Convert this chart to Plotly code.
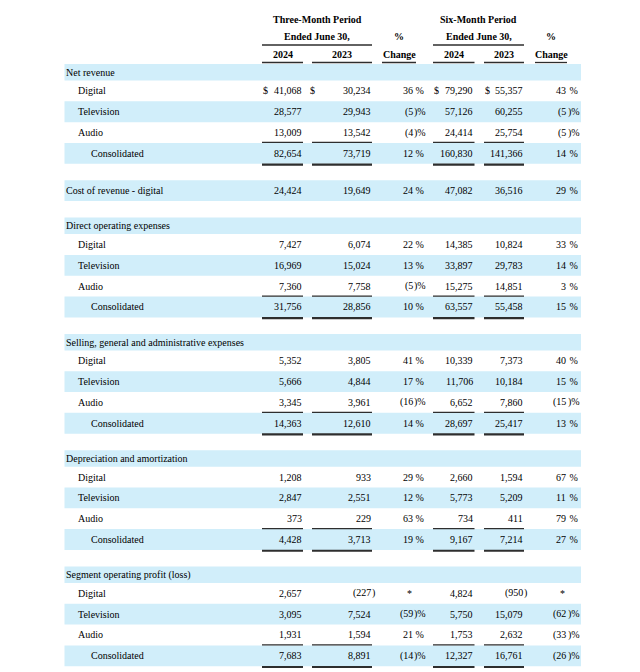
import plotly.graph_objects as go

# ---------------- data ----------------
SECTIONS = ["Net revenue", "Cost of revenue - digital", "Direct operating expenses",
            "Selling, general and administrative expenses", "Depreciation and amortization",
            "Segment operating profit (loss)"]
SEGMENTS = ["Digital", "Television", "Audio", "Consolidated"]
COL_YEARS = ["2024", "2023", "Change", "2024", "2023", "Change"]
PERIODS = ["Three-Month Period", "Six-Month Period"]
PERIOD_SUB = "Ended June 30,"

net_rev_3m_2024 = [41068, 28577, 13009, 82654]
net_rev_3m_2023 = [30234, 29943, 13542, 73719]
net_rev_3m_chg = [36, -5, -4, 12]
net_rev_6m_2024 = [79290, 57126, 24414, 160830]
net_rev_6m_2023 = [55357, 60255, 25754, 141366]
net_rev_6m_chg = [43, -5, -5, 14]

cost_3m_2024 = [24424]
cost_3m_2023 = [19649]
cost_3m_chg = [24]
cost_6m_2024 = [47082]
cost_6m_2023 = [36516]
cost_6m_chg = [29]

doe_3m_2024 = [7427, 16969, 7360, 31756]
doe_3m_2023 = [6074, 15024, 7758, 28856]
doe_3m_chg = [22, 13, -5, 10]
doe_6m_2024 = [14385, 33897, 15275, 63557]
doe_6m_2023 = [10824, 29783, 14851, 55458]
doe_6m_chg = [33, 14, 3, 15]

sga_3m_2024 = [5352, 5666, 3345, 14363]
sga_3m_2023 = [3805, 4844, 3961, 12610]
sga_3m_chg = [41, 17, -16, 14]
sga_6m_2024 = [10339, 11706, 6652, 28697]
sga_6m_2023 = [7373, 10184, 7860, 25417]
sga_6m_chg = [40, 15, -15, 13]

da_3m_2024 = [1208, 2847, 373, 4428]
da_3m_2023 = [933, 2551, 229, 3713]
da_3m_chg = [29, 12, 63, 19]
da_6m_2024 = [2660, 5773, 734, 9167]
da_6m_2023 = [1594, 5209, 411, 7214]
da_6m_chg = [67, 11, 79, 27]

sop_3m_2024 = [2657, 3095, 1931, 7683]
sop_3m_2023 = [-227, 7524, 1594, 8891]
sop_3m_chg = [None, -59, 21, -14]
sop_6m_2024 = [4824, 5750, 1753, 12327]
sop_6m_2023 = [-950, 15079, 2632, 16761]
sop_6m_chg = [None, -62, -33, -26]

SECTION_COLS = [
    [net_rev_3m_2024, net_rev_3m_2023, net_rev_3m_chg, net_rev_6m_2024, net_rev_6m_2023, net_rev_6m_chg],
    [cost_3m_2024, cost_3m_2023, cost_3m_chg, cost_6m_2024, cost_6m_2023, cost_6m_chg],
    [doe_3m_2024, doe_3m_2023, doe_3m_chg, doe_6m_2024, doe_6m_2023, doe_6m_chg],
    [sga_3m_2024, sga_3m_2023, sga_3m_chg, sga_6m_2024, sga_6m_2023, sga_6m_chg],
    [da_3m_2024, da_3m_2023, da_3m_chg, da_6m_2024, da_6m_2023, da_6m_chg],
    [sop_3m_2024, sop_3m_2023, sop_3m_chg, sop_6m_2024, sop_6m_2023, sop_6m_chg],
]

# ---------------- layout constants ----------------
W, H = 640, 672
OFF = 8  # page body margin compensation
FONT = "Liberation Serif"
FS = 10
TXT = "#000000"
BAND = "#d1eefa"
LINE = "#2e2e2e"

X_LABEL, X_SEG, X_CONS = 65.5, 78, 91
BAND_X0, BAND_X1 = 64.5, 581
COL_RIGHT = [302, 370.5, 412.5, 473, 522.5, 566]
IS_PCT = [False, False, True, False, False, True]
DOLLAR_X = [262.5, 309.5, None, 434, 484.5, None]
UL = [(262, 303), (312, 372), (382, 416), (433, 474.5), (484, 524), (535, 567)]
PERIOD_SPAN = [(262, 372), (433, 524)]
PCT_X = [(382 + 416) / 2, (535 + 567) / 2]

Y_START = 64
H_HEAD, H_ROW, H_GAP = 16.5, 20.82, 16.5

shapes, ann = [], []


def text(x, y, s, anchor="left", bold=False):
    ann.append(dict(x=x, y=y, xref="x", yref="y", text=("<b>%s</b>" % s) if bold else s,
                    showarrow=False, xanchor=anchor, yanchor="middle", borderpad=0, borderwidth=0,
                    font=dict(family=FONT, size=FS, color=TXT)))


def hline(x0, x1, y, w=1):
    shapes.append(dict(type="line", xref="x", yref="y", x0=x0, x1=x1, y0=y, y1=y,
                       line=dict(color=LINE, width=w), layer="above"))


def band(y0, y1):
    shapes.append(dict(type="rect", xref="x", yref="y", x0=BAND_X0, x1=BAND_X1, y0=y0, y1=y1,
                       fillcolor=BAND, line=dict(width=0), layer="below"))


# header
for p, (a, b) in enumerate(PERIOD_SPAN):
    cx = (a + b) / 2
    text(cx, 19.5, PERIODS[p], "center", True)
    text(cx, 36.5, PERIOD_SUB, "center", True)
    hline(a, b, 45, 1.3)
    text(PCT_X[p], 36.5, "%", "center", True)
for c, (a, b) in enumerate(UL):
    text((a + b) / 2, 54, COL_YEARS[c], "center", True)
    hline(a, b, 62.5, 1.3)


def fmt_val(v):
    if v is None:
        return "*", ""
    if v < 0:
        return "(" + format(-v, ","), ")"
    return format(v, ","), ""


def fmt_pct(v):
    if v is None:
        return "*", ""
    if v < 0:
        return "(" + str(-v), ")%"
    return str(v), " %"


y = Y_START
for si, name in enumerate(SECTIONS):
    cols = SECTION_COLS[si]
    n = len(cols[0])
    if n > 1:
        band(y, y + H_HEAD)
        text(X_LABEL, y + H_HEAD / 2, name)
        y += H_HEAD
        labels = SEGMENTS
    else:
        labels = [name]
    for r in range(n):
        shaded = (n == 1) or (r % 2 == 1)
        if shaded:
            band(y, y + H_ROW)
        cy = y + H_ROW / 2
        if n == 1:
            lx = X_LABEL
        else:
            lx = X_CONS if labels[r] == "Consolidated" else X_SEG
        text(lx, cy, labels[r])
        for c in range(6):
            v = cols[c][r]
            main, suf = fmt_pct(v) if IS_PCT[c] else fmt_val(v)
            xr = COL_RIGHT[c]
            if v is None:
                text(xr - 1, cy, main, "right")
            else:
                text(xr, cy, main, "right")
            if suf:
                if IS_PCT[c]:
                    gap = 1.5 if v < 0 else 0.5
                else:
                    gap = 1
                text(xr + gap, cy, suf, "left")
            if si == 0 and r == 0 and DOLLAR_X[c] is not None:
                text(DOLLAR_X[c], cy, "$", "left")
        if n > 1 and labels[r] == "Consolidated":
            for c in range(6):
                if not IS_PCT[c]:
                    hline(UL[c][0], UL[c][1], y - 0.5, 1.2)
                    hline(UL[c][0], UL[c][1], y + H_ROW + 0.8, 2.2)
        y += H_ROW
    y += H_GAP

# faint page border on the left
shapes.append(dict(type="line", xref="x", yref="y", x0=3, x1=3, y0=0, y1=H,
                   line=dict(color="#e4e4e4", width=1)))

fig = go.Figure()
fig.add_trace(go.Scatter(x=[OFF, W + OFF], y=[OFF, H + OFF], mode="markers", marker=dict(opacity=0),
                         hoverinfo="skip", showlegend=False))
fig.update_layout(
    width=W, height=H, margin=dict(l=0, r=0, t=0, b=0),
    paper_bgcolor="white", plot_bgcolor="white",
    xaxis=dict(range=[OFF, W + OFF], visible=False, fixedrange=True),
    yaxis=dict(range=[H + OFF, OFF], visible=False, fixedrange=True),
    shapes=shapes, annotations=ann, showlegend=False,
)
fig.write_html("out.html")
